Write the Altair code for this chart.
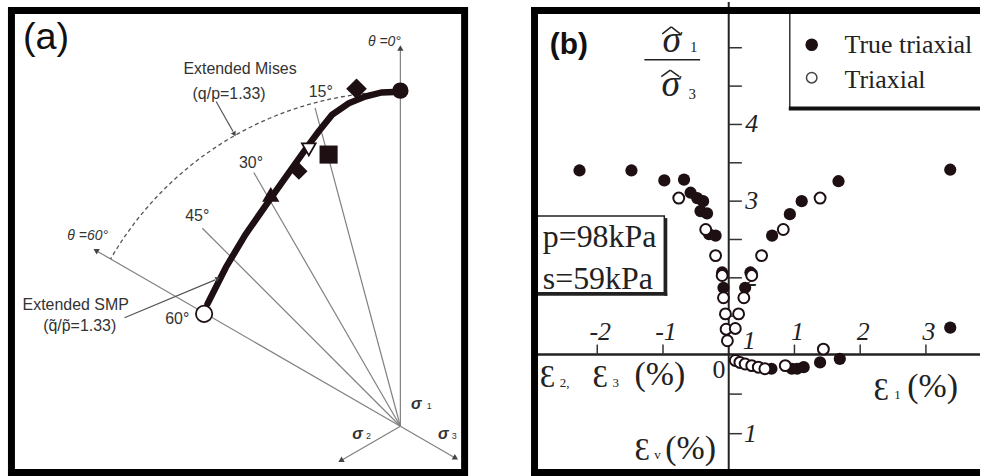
import altair as alt
import pandas as pd

DARK = "#1d0f12"
GREY = "#808080"
INK = "#333333"
SANS = "Liberation Sans"
SERIF = "Liberation Serif, DejaVu Serif"

# ---------------- (a) deviatoric plane ----------------
# extended SMP failure line: Lode angle (deg) and radius (q/p units)
smp_theta = [0, 3.2, 6.1, 9.1, 12.4, 15.5, 18.0, 22.7, 29.1, 38.9, 47.7, 57.6]
smp_radius = [1.330, 1.329, 1.318, 1.300, 1.267, 1.216, 1.177, 1.113, 1.047, 0.980, 0.938, 0.908]

# measured failure states
test_theta = [0, 7.4, 14.8, 18.3, 21.7, 29.2, 60.2]
test_radius = [1.334, 1.353, 1.117, 1.159, 1.091, 1.056, 0.899]

mises_ratio = 1.33

ray_theta = [0, 15, 30, 45, 60]
ray_length = [1.50, 1.31, 1.165, 1.113, 1.394]
stress_axis_theta = [120, 240]
stress_axis_length = [0.27, 0.25]

# ---------------- (b) stress ratio vs strains ----------------
tt_e23 = [-2.27, -1.48, -0.98, -0.68, -0.58, -0.48, -0.39, -0.43, -0.33, -0.30, -0.20, -0.10, -0.08]
tt_r23 = [3.40, 3.40, 3.27, 3.28, 3.11, 3.04, 3.00, 2.87, 2.84, 2.57, 2.55, 2.07, 1.87]
tt_e1 = [0.25, 0.33, 0.66, 0.93, 1.11, 1.67, 3.37, 3.37]
tt_r1 = [1.87, 2.07, 2.55, 2.83, 3.00, 3.26, 3.41, 1.35]
tt_e1v = [0.65, 0.96, 1.04, 1.14, 1.39, 1.69]
tt_ev = [0.18, 0.18, 0.18, 0.16, 0.10, 0.055]

tx_e23 = [-0.76, -0.35, -0.20, -0.10, -0.08, -0.05, -0.04, -0.02]
tx_r23 = [3.04, 2.63, 2.29, 2.03, 1.74, 1.53, 1.33, 1.18]
tx_e1 = [0.10, 0.15, 0.23, 0.35, 0.50, 0.83, 1.39, 1.44]
tx_r1 = [1.34, 1.53, 1.74, 2.03, 2.29, 2.63, 3.04, 1.07]
tx_e1v = [0.10, 0.17, 0.25, 0.35, 0.45, 0.55, 0.86]
tx_ev = [0.075, 0.10, 0.12, 0.14, 0.16, 0.18, 0.14]

strain_ticks = [-2, -1, 1, 2, 3]
strain_tick_labels = ["-2", "-1", "1", "2", "3"]
ratio_ticks = [1.5, 2, 2.5, 3, 3.5, 4, 4.5, 5]
ratio_labels = [4, 3, 2]
ev_ticks = [0.5, 1]

W_A, W_B, H = 490, 494, 476
ONE = pd.DataFrame({"a": [0]})
ANG = alt.Scale(domain=[0, 360], range=[0, 360])


def pix(width):
    # pixel-for-pixel scales used for annotations
    sx = alt.Scale(domain=[0, width], range=[0, width], nice=False, zero=False)
    sy = alt.Scale(domain=[0, H], range=[0, H], nice=False, zero=False)
    return sx, sy


def px_text(width, rows, **kw):
    sx, sy = pix(width)
    kw.setdefault("baseline", "alphabetic")
    df = pd.DataFrame(rows, columns=["x", "y", "text"])
    return alt.Chart(df).mark_text(**kw).encode(
        x=alt.X("x:Q", scale=sx, axis=None),
        y=alt.Y("y:Q", scale=sy, axis=None),
        text="text:N",
    )


def px_rule(width, rows, **kw):
    sx, sy = pix(width)
    df = pd.DataFrame(rows, columns=["x", "y", "x2", "y2"])
    return alt.Chart(df).mark_rule(**kw).encode(
        x=alt.X("x:Q", scale=sx, axis=None),
        y=alt.Y("y:Q", scale=sy, axis=None),
        x2="x2:Q", y2="y2:Q",
    )


def px_head(width, rows, **kw):
    sx, sy = pix(width)
    df = pd.DataFrame(rows, columns=["x", "y", "ang"])
    return alt.Chart(df).mark_point(shape="triangle", filled=True, opacity=1, **kw).encode(
        x=alt.X("x:Q", scale=sx, axis=None),
        y=alt.Y("y:Q", scale=sy, axis=None),
        angle=alt.Angle("ang:Q", scale=ANG),
    )


# ---------- panel (a) ----------
AX = alt.Scale(domain=[-1.5914, 0.3484], nice=False, zero=False)
AY = alt.Scale(domain=[-0.1979, 1.6865], nice=False, zero=False)
PX = "-datum.r*sin(datum.theta*PI/180)"
PY = "datum.r*cos(datum.theta*PI/180)"
XY = dict(x=alt.X("px:Q", scale=AX, axis=None), y=alt.Y("py:Q", scale=AY, axis=None))

ray_df = pd.DataFrame({"theta": ray_theta + stress_axis_theta,
                       "r": ray_length + stress_axis_length})
rays = alt.Chart(ray_df).transform_calculate(px=PX).transform_calculate(py=PY).transform_calculate(
    o="0").mark_rule(color=GREY, strokeWidth=1.2).encode(
    x=alt.X("o:Q", scale=AX, axis=None), y=alt.Y("o:Q", scale=AY, axis=None),
    x2="px:Q", y2="py:Q")
heads = alt.Chart(ray_df).transform_filter("datum.theta % 60 == 0").transform_calculate(
    px=PX).transform_calculate(py=PY).transform_calculate(ang="(360 - datum.theta) % 360").mark_point(
    shape="triangle", filled=True, color="#444", size=40, opacity=1).encode(
    **XY, angle=alt.Angle("ang:Q", scale=ANG))

mises = alt.Chart(alt.sequence(0, 61, 1, as_="theta")).transform_calculate(
    r=str(mises_ratio)).transform_calculate(px=PX).transform_calculate(py=PY).mark_line(
    color="#555", strokeWidth=1.3, strokeDash=[4, 3]).encode(**XY, order="theta:Q")

smp = alt.Chart(pd.DataFrame({"theta": smp_theta, "r": smp_radius})).transform_calculate(
    px=PX).transform_calculate(py=PY).mark_line(
    color=DARK, strokeWidth=6.5, strokeCap="round").encode(**XY, order="theta:Q")

marker_styles = [
    dict(shape="circle", size=270, filled=True),
    dict(shape="diamond", size=430, filled=True),
    dict(shape="square", size=330, filled=True),
    dict(shape="triangle-down", size=190, filled=False),
    dict(shape="diamond", size=300, filled=True),
    dict(shape="triangle-up", size=300, filled=True),
    dict(shape="circle", size=270, filled=False),
]
test_df = pd.DataFrame({"idx": range(len(test_theta)), "theta": test_theta, "r": test_radius})
markers = []
for i, st in enumerate(marker_styles):
    base = alt.Chart(test_df).transform_filter(f"datum.idx == {i}").transform_calculate(
        px=PX).transform_calculate(py=PY)
    if st["filled"]:
        m = base.mark_point(shape=st["shape"], size=st["size"], filled=True, color=DARK, opacity=1)
    else:
        m = base.mark_point(shape=st["shape"], size=st["size"], filled=True, fill="white",
                            stroke=DARK, strokeWidth=1.8, opacity=1)
    markers.append(m.encode(**XY))

frame_a = alt.Chart(ONE).mark_rect(fillOpacity=0, stroke="black", strokeWidth=7).encode(
    x=alt.value(11.5), x2=alt.value(466.5), y=alt.value(8.5), y2=alt.value(472.5))

notes_a = [
    px_rule(W_A, [(217, 100, 234, 130), (125, 317, 216, 279)], color="#555", strokeWidth=1.2),
    px_head(W_A, [(235, 132, 151), (218, 278, 67)], color="#444", size=30),
    px_text(W_A, [(23, 47, "(a)")], font=SANS, fontSize=38, align="left", color="#111"),
    px_text(W_A, [(241, 67, "Extended Mises"), (230, 92, "(q/p=1.33)"),
                  (76, 304, "Extended SMP"), (80, 325, "(q\u0303/p\u0303=1.33)")],
            font=SANS, fontSize=16, color=INK, baseline="middle"),
    px_text(W_A, [(322, 90, "15°"), (252, 162, "30°"), (198, 215, "45°"), (178, 318, "60°")],
            font=SANS, fontSize=16, color=INK, baseline="middle"),
    px_text(W_A, [(386, 40, "θ =0°"), (88, 235, "θ =60°")],
            font=SANS, fontSize=14, color=INK, baseline="middle", fontStyle="italic"),
    px_text(W_A, [(418, 404, "σ"), (359, 434, "σ"), (445, 434, "σ")],
            font=SANS, fontSize=16, fontWeight="bold", fontStyle="italic", color=INK, baseline="middle"),
    px_text(W_A, [(431, 406, "1"), (370, 436, "2"), (456, 436, "3")],
            font=SANS, fontSize=9, color=INK, baseline="middle"),
]

panel_a = alt.layer(rays, heads, mises, smp, *markers, frame_a, *notes_a).resolve_scale(
    x="independent", y="independent").properties(width=W_A, height=H)

# ---------- panel (b) ----------
BX = alt.Scale(domain=[-3.662, 3.823], nice=False, zero=False)
BR = alt.Scale(domain=[-0.5844, 5.597], nice=False, zero=False)
BV = alt.Scale(domain=[-4.453, 1.535], nice=False, zero=False, reverse=True)


def pts(xs, ys, yscale, filled):
    ch = alt.Chart(pd.DataFrame({"e": xs, "v": ys}))
    if filled:
        m = ch.mark_point(shape="circle", filled=True, color=DARK, size=150, opacity=1)
    else:
        m = ch.mark_point(shape="circle", filled=True, fill="white", stroke=DARK,
                          strokeWidth=2, size=120, opacity=1)
    return m.encode(x=alt.X("e:Q", scale=BX, axis=None), y=alt.Y("v:Q", scale=yscale, axis=None))


origin_df = pd.DataFrame({"x0": [0], "y1": [1]})
vaxis = alt.Chart(origin_df).mark_rule(color="#222", strokeWidth=2).encode(
    x=alt.X("x0:Q", scale=BX, axis=None), y=alt.value(0), y2=alt.value(H))
haxis = alt.Chart(origin_df).mark_rule(color="#222", strokeWidth=2.5).encode(
    y=alt.Y("y1:Q", scale=BR, axis=None), x=alt.value(47), x2=alt.value(W_B))

xt = alt.Chart(pd.DataFrame({"t": strain_ticks})).transform_calculate(
    a="1", b="1.13").mark_rule(color="#333", strokeWidth=1.5).encode(
    x=alt.X("t:Q", scale=BX, axis=None), y=alt.Y("a:Q", scale=BR, axis=None), y2="b:Q")
rt = alt.Chart(pd.DataFrame({"t": ratio_ticks})).transform_calculate(
    a="0", b="0.2").mark_rule(color="#333", strokeWidth=1.5).encode(
    y=alt.Y("t:Q", scale=BR, axis=None), x=alt.X("a:Q", scale=BX, axis=None), x2="b:Q")
vt = alt.Chart(pd.DataFrame({"t": ev_ticks})).transform_calculate(
    a="0", b="0.2").mark_rule(color="#333", strokeWidth=1.5).encode(
    y=alt.Y("t:Q", scale=BV, axis=None), x=alt.X("a:Q", scale=BX, axis=None), x2="b:Q")

TICKFONT = dict(font=SERIF, fontSize=26, fontStyle="italic", color="#222")
xl = alt.Chart(pd.DataFrame({"t": strain_ticks, "s": strain_tick_labels})).transform_calculate(
    a="1.19").mark_text(align="center", baseline="alphabetic", dx=3, **TICKFONT).encode(
    x=alt.X("t:Q", scale=BX, axis=None), y=alt.Y("a:Q", scale=BR, axis=None), text="s:N")
rl = alt.Chart(pd.DataFrame({"t": ratio_labels})).transform_calculate(
    a="0.25").mark_text(align="left", baseline="middle", **TICKFONT).encode(
    x=alt.X("a:Q", scale=BX, axis=None), y=alt.Y("t:Q", scale=BR, axis=None), text="t:N")
one_lab = alt.Chart(pd.DataFrame({"x": [0.31], "y": [1.18], "s": ["1"]})).mark_text(
    align="center", baseline="middle", **TICKFONT).encode(
    x=alt.X("x:Q", scale=BX, axis=None), y=alt.Y("y:Q", scale=BR, axis=None), text="s:N")
zero_lab = alt.Chart(pd.DataFrame({"x": [-0.15], "y": [0.2], "s": ["0"]})).mark_text(
    align="center", baseline="middle", font=SERIF, fontSize=26, color="#222").encode(
    x=alt.X("x:Q", scale=BX, axis=None), y=alt.Y("y:Q", scale=BV, axis=None), text="s:N")
ev_lab = alt.Chart(pd.DataFrame({"x": [0.33], "y": [1.0], "s": ["1"]})).mark_text(
    align="center", baseline="middle", **TICKFONT).encode(
    x=alt.X("x:Q", scale=BX, axis=None), y=alt.Y("y:Q", scale=BV, axis=None), text="s:N")

frame_b = px_rule(W_B, [(46.7, 5, 46.7, H), (43.2, 8.5, W_B, 8.5), (43.2, 472.5, W_B, 472.5)],
                  color="black", strokeWidth=7)

pbox = alt.Chart(ONE).mark_rect(fill="white", stroke="#222", strokeWidth=1.5).encode(
    x=alt.value(46.7), x2=alt.value(177), y=alt.value(215), y2=alt.value(292))
pbox_shadow = px_rule(W_B, [(178.5, 217, 178.5, 295), (48, 293.5, 180, 293.5)],
                      color="#222", strokeWidth=3)

legend_lines = [
    px_rule(W_B, [(303, 8, 303, 106)], color="#333", strokeWidth=1.5),
    px_rule(W_B, [(302, 107, W_B, 107)], color="#111", strokeWidth=4),
]
SXB, SYB = pix(W_B)
leg_filled = alt.Chart(pd.DataFrame({"x": [325], "y": [43]})).mark_point(
    shape="circle", filled=True, color=DARK, size=160, opacity=1).encode(
    x=alt.X("x:Q", scale=SXB, axis=None), y=alt.Y("y:Q", scale=SYB, axis=None))
leg_open = alt.Chart(pd.DataFrame({"x": [325], "y": [76]})).mark_point(
    shape="circle", filled=True, fill="white", stroke="#444", strokeWidth=1.5, size=110, opacity=1).encode(
    x=alt.X("x:Q", scale=SXB, axis=None), y=alt.Y("y:Q", scale=SYB, axis=None))

notes_b = [
    px_text(W_B, [(358, 51, "True triaxial"), (358, 86, "Triaxial")],
            font=SERIF, fontSize=26, align="left", color="#222"),
    px_text(W_B, [(55, 246, "p=98kPa"), (55, 288, "s=59kPa")],
            font=SERIF, fontSize=32, align="left", color="#222"),
    px_text(W_B, [(62, 52, "(b)")], font=SANS, fontSize=30, fontWeight="bold", align="left", color="#111"),
    # sigma-hat_1 / sigma-hat_3 fraction
    px_text(W_B, [(184.5, 50, "σ"), (183.5, 94, "σ")], font=SERIF, fontSize=38,
            fontStyle="italic", align="center", color="#222"),
    # circumflex accents drawn as two strokes each
    px_rule(W_B, [(175, 32, 184, 25), (184, 25, 193, 32),
                  (174, 75, 183, 68.5), (183, 68.5, 192, 75)], color="#222", strokeWidth=1.5),
    px_text(W_B, [(206.5, 50, "1"), (205, 97, "3")], font=SERIF, fontSize=15, align="center", color="#222"),
    px_rule(W_B, [(157, 58, 213, 58)], color="#222", strokeWidth=1.5),
    # axis titles
    px_text(W_B, [(52, 387, "Ɛ"), (105, 387, "Ɛ"), (387, 400, "Ɛ"), (147, 460, "Ɛ")],
            font=SERIF, fontSize=31, align="left", color="#222"),
    px_text(W_B, [(72, 387, "2,"), (125, 387, "3"), (408, 399, "1"), (167, 459, "v")],
            font=SERIF, fontSize=13, align="left", color="#222"),
    px_text(W_B, [(147, 385, "(%)"), (421, 397, "(%)"), (178, 459, "(%)")],
            font=SERIF, fontSize=34, align="left", color="#222"),
]

panel_b = alt.layer(
    vaxis, haxis, xt, rt, vt, xl, rl, one_lab, zero_lab, ev_lab,
    pts(tt_e23, tt_r23, BR, True), pts(tt_e1, tt_r1, BR, True), pts(tt_e1v, tt_ev, BV, True),
    pts(tx_e23, tx_r23, BR, False), pts(tx_e1, tx_r1, BR, False), pts(tx_e1v, tx_ev, BV, False),
    pbox, pbox_shadow, *legend_lines, leg_filled, leg_open, frame_b, *notes_b,
).resolve_scale(x="independent", y="independent").properties(width=W_B, height=H)

chart = alt.hconcat(panel_a, panel_b, spacing=0).properties(
    padding={"left": 0, "top": 0, "right": 0, "bottom": 0}
).configure_view(stroke=None)

chart.save("out.html", embed_options={"renderer": "svg", "actions": False})
